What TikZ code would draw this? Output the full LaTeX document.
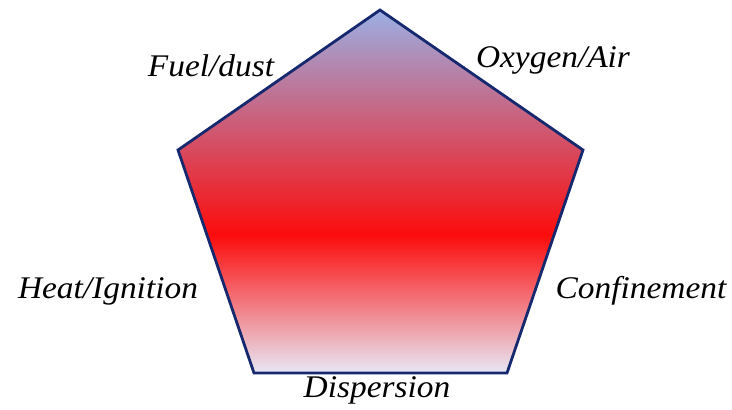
\documentclass[tikz,border=0pt]{standalone}
\usepackage{fontspec}
\setmainfont{Liberation Serif}
\newfontfamily\lblfont[FakeStretch=1.06]{Liberation Serif}
\definecolor{topc}{RGB}{155,175,228}
\definecolor{midc}{RGB}{252,12,12}
\definecolor{botc}{RGB}{232,232,245}
\definecolor{edgec}{RGB}{22,40,110}
\pgfdeclareverticalshading{pentshade}{100bp}{color(0bp)=(botc); color(25bp)=(botc); color(44bp)=(midc); color(75bp)=(topc); color(100bp)=(topc)}
\begin{document}
\begin{tikzpicture}[x=1pt,y=-1pt,
  lbl/.style={font=\lblfont\itshape\fontsize{31.5}{34}\selectfont, text=black, inner sep=0pt}]
\useasboundingbox (0,0) rectangle (732,410);
\coordinate (T) at (380,10);
\coordinate (UR) at (583,150);
\coordinate (LR) at (507,373);
\coordinate (LL) at (254,373);
\coordinate (UL) at (178,150);
\shade[shading=pentshade] (T) -- (UR) -- (LR) -- (LL) -- (UL) -- cycle;
\draw[edgec, line width=2.8pt, line join=miter] (T) -- (UR) -- (LR) -- (LL) -- (UL) -- cycle;
\node[lbl] (fuel) at (211,66) {Fuel/dust};
\node[lbl] (oxy) at (553,60) {Oxygen/Air};
\node[lbl] (heat) at (108,291) {Heat/Ignition};
\node[lbl] (conf) at (641,291) {Confinement};
\node[lbl] (disp) at (377,390) {Dispersion};
\end{tikzpicture}
\end{document}
